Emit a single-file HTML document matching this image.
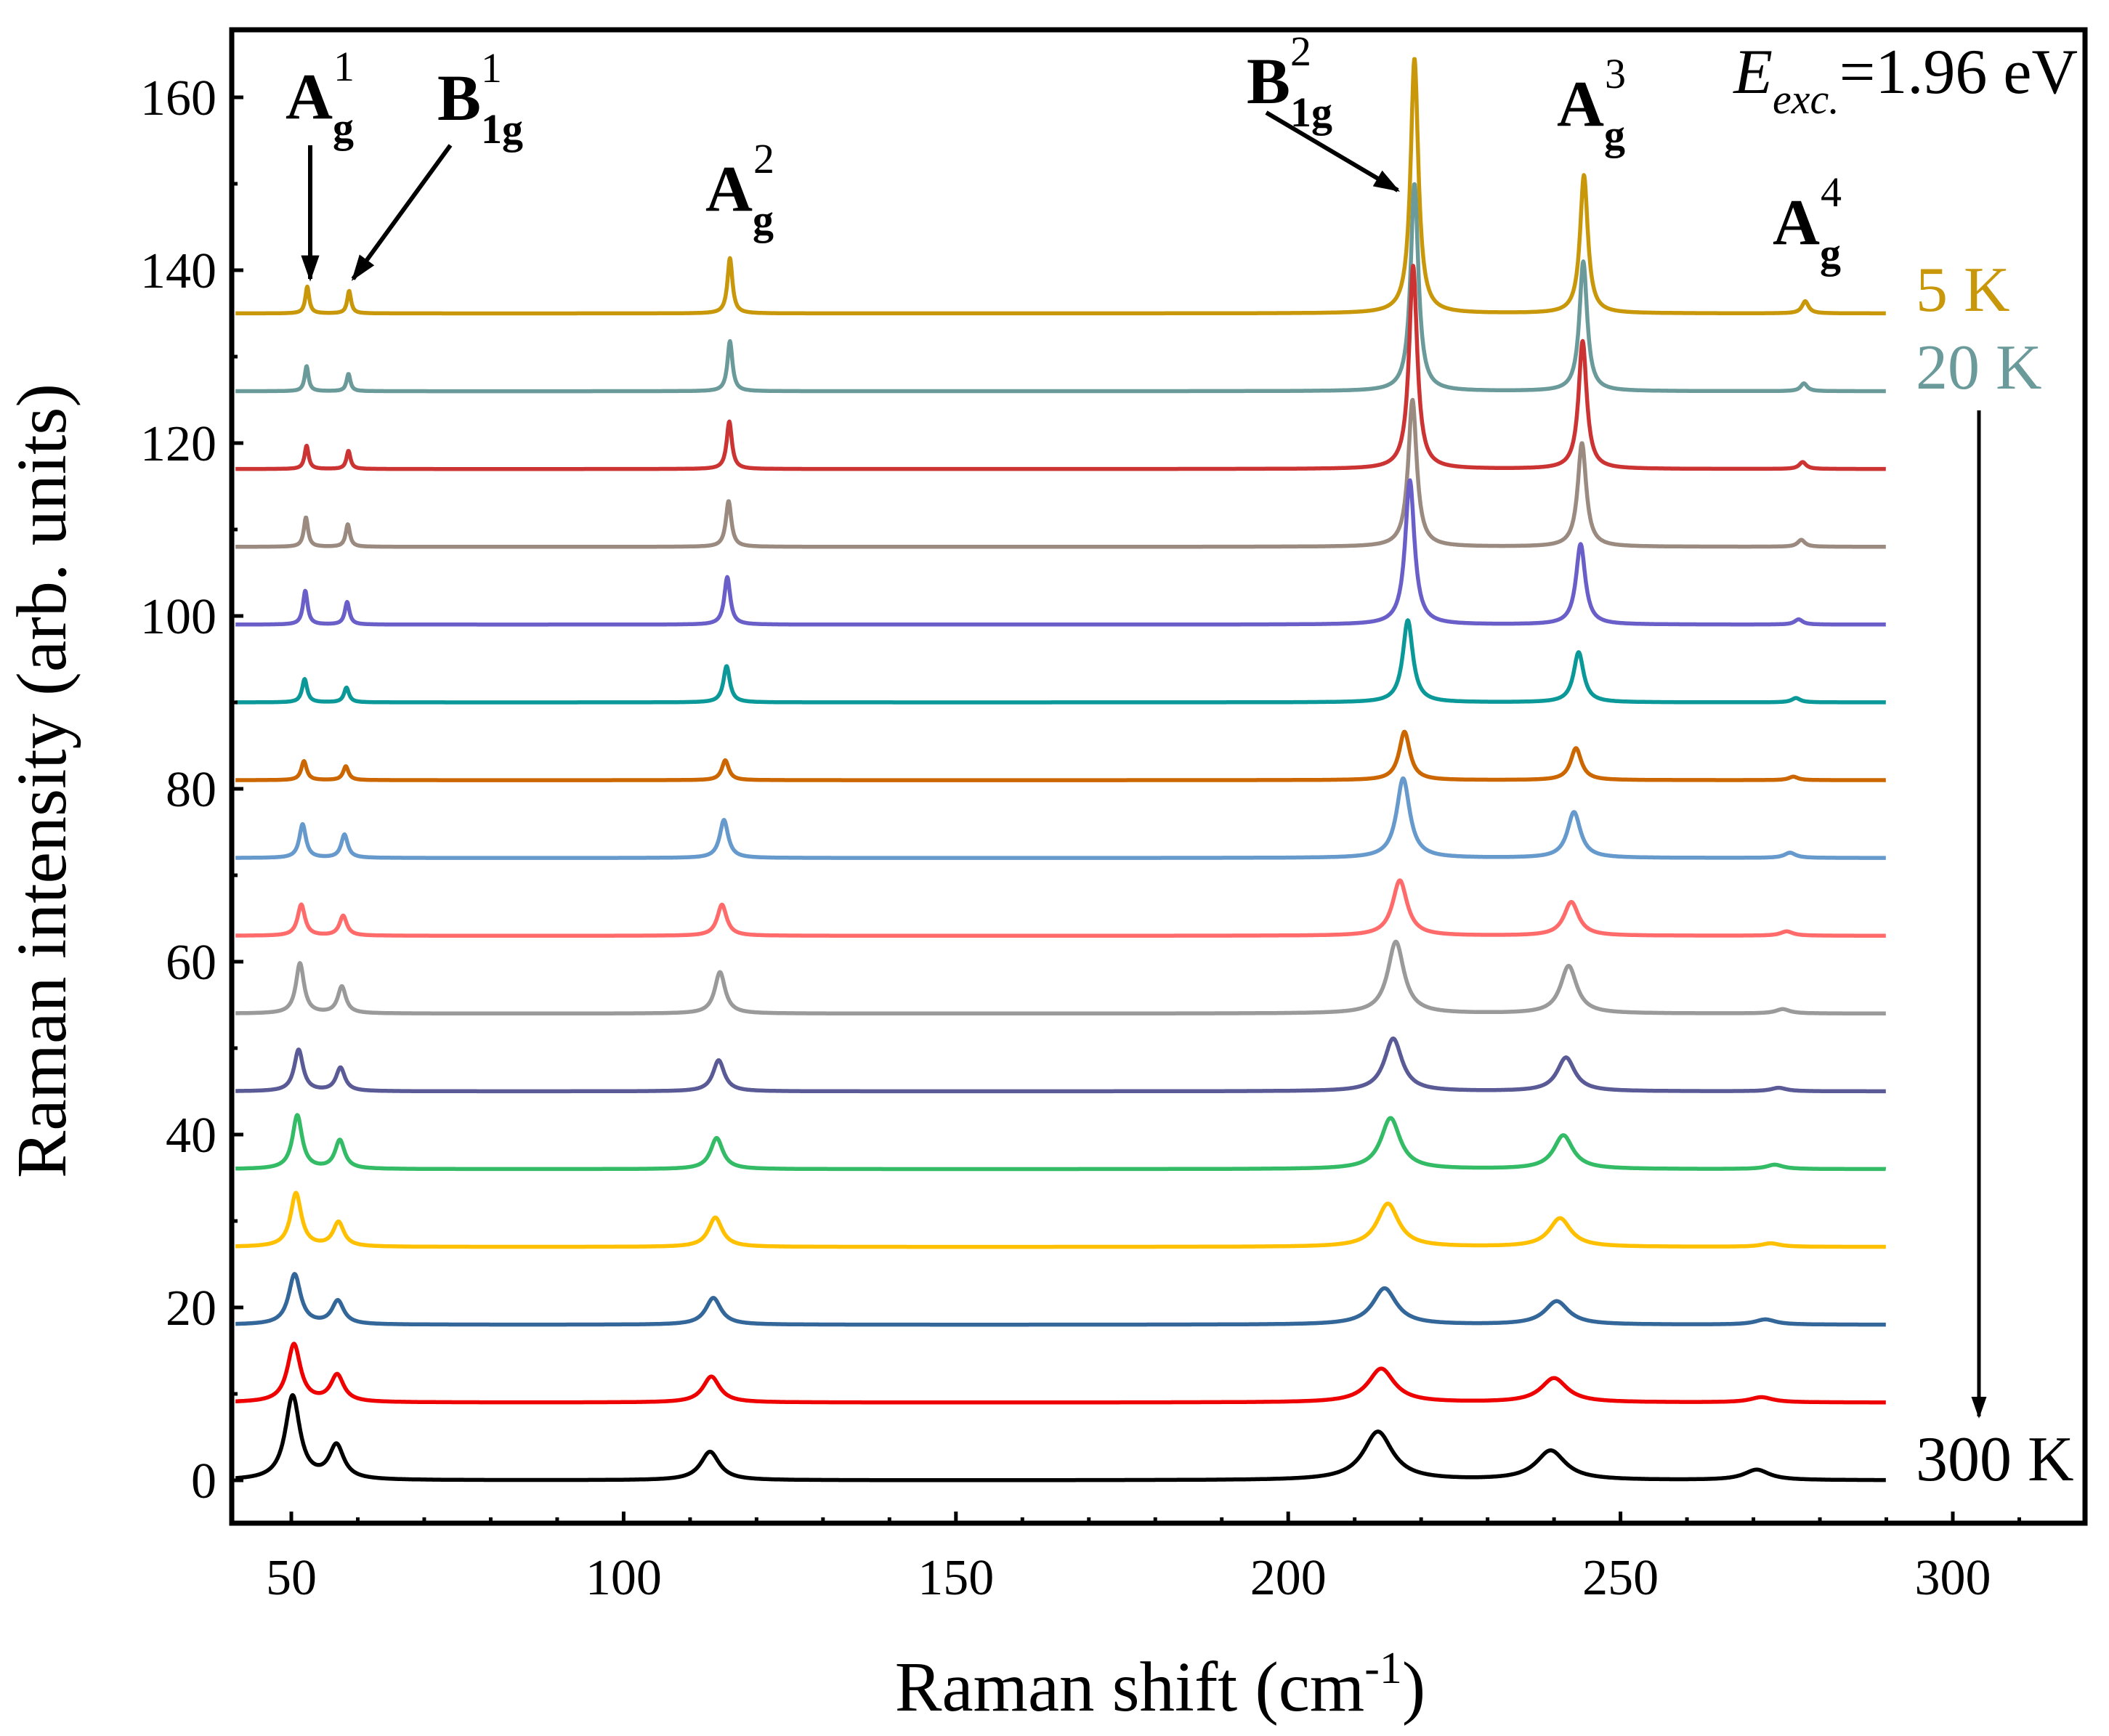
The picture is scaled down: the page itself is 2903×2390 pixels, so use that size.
<!DOCTYPE html>
<html><head><meta charset="utf-8">
<style>
html,body{margin:0;padding:0;background:#fff;}
svg{display:block;font-family:"Liberation Serif",serif;}
</style></head>
<body>
<svg id="chart" width="2903" height="2390" viewBox="0 0 2903 2390" xmlns="http://www.w3.org/2000/svg">
<defs>
<marker id="ah" viewBox="0 0 10 10" refX="9" refY="5" markerWidth="6" markerHeight="6" orient="auto" markerUnits="strokeWidth"><path d="M0,1.5 L10,5 L0,8.5 Z" fill="#000"/></marker>
</defs>
<g id="series"></g>
<g id="axes"></g>
<text x="0" y="0" font-size="98" text-anchor="middle" transform="translate(90,1075) rotate(-90)">Raman intensity (arb. units)</text>
<text x="1597" y="2355" font-size="97" text-anchor="middle">Raman shift (cm<tspan font-size="62" dy="-38">-1</tspan><tspan dy="38">)</tspan></text>
<g font-weight="bold" font-size="90">
 <text x="393" y="163">A<tspan font-size="58" dy="32">g</tspan><tspan font-size="58" font-weight="normal" dx="-28" dy="-84">1</tspan></text>
 <text x="602" y="165">B<tspan font-size="58" dy="32">1g</tspan><tspan font-size="58" font-weight="normal" dx="-58" dy="-84">1</tspan></text>
 <text x="971" y="290">A<tspan font-size="58" dy="32">g</tspan><tspan font-size="58" font-weight="normal" dx="-28" dy="-84">2</tspan></text>
 <text x="1716" y="142">B<tspan font-size="58" dy="32">1g</tspan><tspan font-size="58" font-weight="normal" dx="-58" dy="-84">2</tspan></text>
 <text x="2143" y="173">A<tspan font-size="58" dy="32">g</tspan><tspan font-size="58" font-weight="normal" dx="-28" dy="-84">3</tspan></text>
 <text x="2440" y="336">A<tspan font-size="58" dy="32">g</tspan><tspan font-size="58" font-weight="normal" dx="-28" dy="-84">4</tspan></text>
</g>
<g stroke="#000" stroke-width="6" fill="none">
 <line x1="427" y1="200" x2="427" y2="384" marker-end="url(#ah)"/>
 <line x1="620" y1="200" x2="486" y2="384" marker-end="url(#ah)"/>
 <line x1="1743" y1="155" x2="1924" y2="262" marker-end="url(#ah)"/>
 <line x1="2724" y1="565" x2="2724" y2="1950" stroke-width="5" marker-end="url(#ah)"/>
</g>
<text x="2860" y="128" font-size="88" text-anchor="end"><tspan font-style="italic">E</tspan><tspan font-style="italic" font-size="58" dy="28">exc.</tspan><tspan dy="-28">=1.96 eV</tspan></text>
<text x="2637" y="428" font-size="88" fill="#c9970a">5 K</text>
<text x="2637" y="535" font-size="88" fill="#6a9a9a">20 K</text>
<text x="2637" y="2038" font-size="88" fill="#000">300 K</text>
</svg>
<script>
// ---- data (top curve = 5 K, bottom = 300 K) ----
const offsets = [135,126,117,108,99,90,81,72,63,54,45,36,27,18,9,0];
const colors = ["#c9970a","#6a9a9a","#cc3333","#9a8a80","#6a5fc8","#0a9898","#cc6600","#6699cc","#ff6b6b","#9a9a9a","#5a5a96","#33bb66","#ffc000","#336699","#ee0000","#000000"];
const posAg1  = [52.4,52.3,52.3,52.2,52.1,52.0,51.9,51.7,51.5,51.3,51.1,50.9,50.7,50.5,50.4,50.2];
const posB1g1 = [58.7,58.6,58.6,58.5,58.4,58.3,58.2,58.0,57.8,57.6,57.4,57.3,57.1,57.0,56.9,56.8];
const posAg2  = [116.0,116.0,115.9,115.8,115.6,115.5,115.3,115.1,114.8,114.5,114.3,114.0,113.8,113.5,113.2,113.0];
const posB1g2 = [219.0,219.0,218.8,218.7,218.3,218.0,217.5,217.3,216.8,216.2,215.8,215.4,215.0,214.5,214.0,213.5];
const posAg3  = [244.5,244.4,244.3,244.2,244.0,243.7,243.3,243.0,242.6,242.2,241.8,241.4,240.9,240.4,240.0,239.5];
const posAg4  = [277.8,277.6,277.4,277.2,276.8,276.4,276.0,275.5,275.0,274.4,273.8,273.2,272.6,271.8,271.2,270.5];
const hAg1  = [3.1,2.9,2.7,3.4,3.9,2.7,2.2,3.9,3.6,5.8,4.8,6.2,6.2,5.8,6.7,9.7];
const hB1g1 = [2.6,2.0,2.1,2.6,2.6,1.7,1.6,2.7,2.3,3.1,2.7,3.3,2.8,2.7,3.1,3.9];
const hAg2  = [6.4,5.8,5.5,5.3,5.5,4.2,2.3,4.4,3.6,4.8,3.6,3.6,3.4,3.1,3.0,3.3];
const hB1g2 = [29.5,24.0,23.5,17.0,16.7,9.5,5.6,9.2,6.4,8.3,6.1,5.9,5.0,4.2,3.9,5.6];
const hAg3  = [16.0,15.0,14.8,12.0,9.3,5.8,3.7,5.3,3.9,5.5,3.9,3.9,3.3,2.7,2.8,3.4];
const hAg4  = [1.4,0.9,0.8,0.8,0.6,0.5,0.4,0.6,0.5,0.5,0.4,0.5,0.4,0.6,0.6,1.2];
const widthFactor = [1,1,1.05,1.1,1.2,1.3,1.4,1.7,1.9,2.1,2.3,2.5,2.8,3.1,3.4,3.8];
const baseWidths = [0.35,0.35,0.45,0.7,0.7,0.6];
const xTicks = [50,100,150,200,250,300];
const yTicks = [0,20,40,60,80,100,120,140,160];

// ---- axes ----
const X0=319, X1=2870, Y0=41, Y1=2097;
const yPx0=2038, yPerUnit=(2038-134)/160;
function sx(v){return 401+(v-50)*9.148;}
function sy(v){return yPx0-v*yPerUnit;}
const NS="http://www.w3.org/2000/svg";
const gS=document.getElementById('series');
const gA=document.getElementById('axes');

function lor(x,x0,h,w){return h*w*w/((x-x0)*(x-x0)+w*w);}
for(let i=0;i<offsets.length;i++){
  const P=[posAg1[i],posB1g1[i],posAg2[i],posB1g2[i],posAg3[i],posAg4[i]];
  const H=[hAg1[i],hB1g1[i],hAg2[i],hB1g2[i],hAg3[i],hAg4[i]];
  let d="";
  for(let x=41.6;x<=290;x+=0.08){
    let y=offsets[i];
    for(let k=0;k<6;k++) y+=lor(x,P[k],H[k],baseWidths[k]*widthFactor[i]);
    d+=(d?"L":"M")+sx(x).toFixed(1)+","+sy(y).toFixed(1);
  }
  const p=document.createElementNS(NS,'path');
  p.setAttribute('d',d);
  p.setAttribute('fill','none');
  p.setAttribute('stroke',colors[i]);
  p.setAttribute('stroke-width','5.5');
  p.setAttribute('stroke-linejoin','round');
  
  
  gS.appendChild(p);
}

function line(x1,y1,x2,y2,w,name){
  const l=document.createElementNS(NS,'line');
  l.setAttribute('x1',x1);l.setAttribute('y1',y1);l.setAttribute('x2',x2);l.setAttribute('y2',y2);
  l.setAttribute('stroke','#000');l.setAttribute('stroke-width',w);
  
  
  gA.appendChild(l);
}
function text(x,y,s,anchor,name){
  const t=document.createElementNS(NS,'text');
  t.setAttribute('x',x);t.setAttribute('y',y);t.setAttribute('font-size','70');
  t.setAttribute('text-anchor',anchor);t.textContent=s;
  
  
  gA.appendChild(t);
}
const r=document.createElementNS(NS,'rect');
r.setAttribute('x',X0);r.setAttribute('y',Y0);r.setAttribute('width',X1-X0);r.setAttribute('height',Y1-Y0);
r.setAttribute('fill','none');r.setAttribute('stroke','#000');r.setAttribute('stroke-width','7');


gA.appendChild(r);
for(let v=50;v<=310;v+=10){
  const major = xTicks.includes(v);
  line(sx(v),Y1,sx(v),Y1-(major?16:8),5,major?'x-major-tick':'x-minor-tick');
}
xTicks.forEach(v=>text(sx(v),2195,String(v),'middle','x-tick-label'));
for(let v=0;v<=160;v+=10){
  const major = yTicks.includes(v);
  line(X0,sy(v),X0+(major?16:8),sy(v),5,major?'y-major-tick':'y-minor-tick');
}
yTicks.forEach(v=>text(298,sy(v)+24,String(v),'end','y-tick-label'));
</script>
</body></html>
